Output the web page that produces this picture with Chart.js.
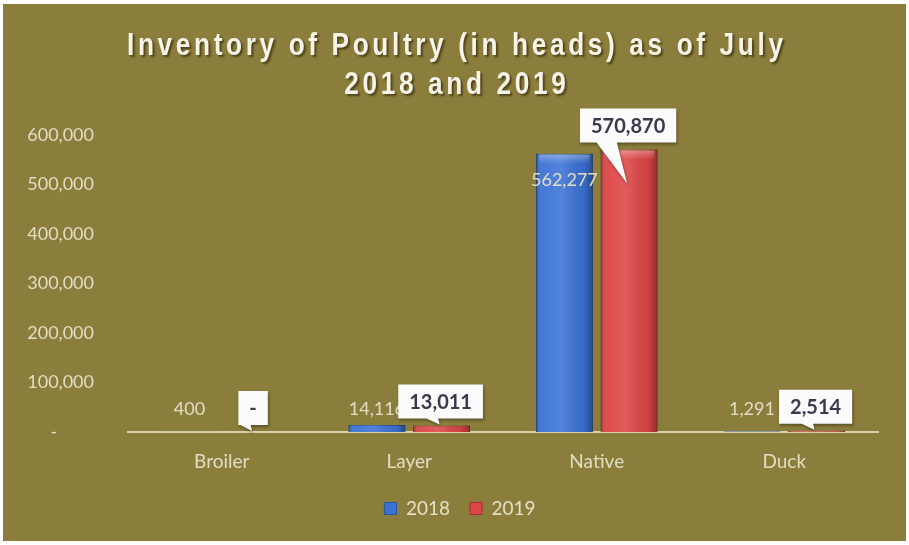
<!DOCTYPE html>
<html>
<head>
<meta charset="utf-8">
<script src="https://cdn.jsdelivr.net/npm/chart.js@4.4.1/dist/chart.umd.min.js"></script>
<style>
  html, body { margin: 0; padding: 0; background: #ffffff; }
  #wrap { width: 909px; height: 545px; }
</style>
</head>
<body>
<div id="wrap"><canvas id="poultryChart" width="909" height="545"></canvas></div>
<script>
// ===== Data =====
const categories = ["Broiler", "Layer", "Native", "Duck"];
const values2018 = [400, 14116, 562277, 1291];
const values2019 = [0, 13011, 570870, 2514];
const seriesLabels = ["2018", "2019"];
const titleLines = ["Inventory of Poultry (in heads) as of July", "2018 and 2019"];

const olive = "#8b7d3c";
const lightText = "#e2ddc2";
const blue = "#3b72d6";
const red = "#de4545";

function fmt(v) {
  return v === 0 ? "-" : v.toLocaleString("en-US");
}

// ===== Background + title =====
const backdrop = {
  id: "backdrop",
  beforeDraw(chart) {
    const ctx = chart.ctx;
    ctx.save();
    ctx.fillStyle = "#ffffff";
    ctx.fillRect(0, 0, chart.width, chart.height);
    ctx.fillStyle = olive;
    ctx.fillRect(3, 4, chart.width - 6, chart.height - 8);
    ctx.restore();
  },
  afterLayout(chart) {
    // legend sits a little right of centre in the original
    chart.legend.left += 21;
    chart.legend.right += 21;
  },
  afterDraw(chart) {
    const ctx = chart.ctx;
    const sx = 0.82; // narrow face
    ctx.save();
    ctx.font = "bold 32px 'Liberation Sans', Arial, sans-serif";
    ctx.textAlign = "center";
    ctx.textBaseline = "middle";
    const w0 = ctx.measureText(titleLines[0]).width * sx;
    const sp = Math.max(0, (656 - w0) / (titleLines[0].length - 1) / sx);
    ctx.letterSpacing = sp.toFixed(2) + "px";
    ctx.shadowColor = "rgba(40,30,0,0.6)";
    ctx.shadowOffsetX = 2;
    ctx.shadowOffsetY = 2;
    ctx.shadowBlur = 2;
    ctx.fillStyle = "#f6f3e8";
    ctx.translate(455, 0);
    ctx.scale(sx, 1);
    titleLines.forEach((line, i) => ctx.fillText(line, sp / 2, 46 + i * 39));
    ctx.restore();
  }
};

// ===== Bar shading + data labels =====
function callout(ctx, text, cx, bottom, tipX, tipY) {
  ctx.font = "bold 20px Lato, sans-serif";
  const w = ctx.measureText(text).width + 22;
  const h = 34;
  const left = cx - w / 2, top = bottom - h;
  const dy = tipY - bottom;
  let x1 = tipX - 10 - 0.5 * dy, x2 = tipX - 0.25 * dy;
  x1 = Math.max(x1, left + 2);
  x2 = Math.min(Math.max(x2, x1 + 6), left + w - 2);

  ctx.save();
  ctx.shadowColor = "rgba(0,0,0,0.35)";
  ctx.shadowOffsetX = 1;
  ctx.shadowOffsetY = 2;
  ctx.shadowBlur = 3;
  ctx.fillStyle = "#fbfbfb";
  ctx.beginPath();
  ctx.moveTo(left, top);
  ctx.lineTo(left + w, top);
  ctx.lineTo(left + w, bottom);
  ctx.lineTo(x2, bottom);
  ctx.lineTo(tipX, tipY);
  ctx.lineTo(x1, bottom);
  ctx.lineTo(left, bottom);
  ctx.closePath();
  ctx.fill();
  ctx.restore();

  ctx.fillStyle = "#3a3a4c";
  ctx.textAlign = "center";
  ctx.textBaseline = "middle";
  ctx.fillText(text, cx, top + h / 2 + 1);
}

const barDecor = {
  id: "barDecor",
  afterDatasetsDraw(chart) {
    const ctx = chart.ctx;
    const base = chart.scales.y.getPixelForValue(0);
    ctx.save();
    chart.data.datasets.forEach((ds, di) => {
      chart.getDatasetMeta(di).data.forEach(bar => {
        const h = base - bar.y;
        if (h < 1) return;
        const l = bar.x - bar.width / 2, r = bar.x + bar.width / 2;
        const g = ctx.createLinearGradient(l, 0, r, 0);
        g.addColorStop(0, "rgba(0,0,0,0.28)");
        g.addColorStop(0.12, "rgba(255,255,255,0.05)");
        g.addColorStop(0.45, "rgba(255,255,255,0.12)");
        g.addColorStop(0.85, "rgba(0,0,0,0.08)");
        g.addColorStop(1, "rgba(0,0,0,0.35)");
        ctx.fillStyle = g;
        ctx.fillRect(l, bar.y, bar.width, h);
        if (h > 12) {
          const t = ctx.createLinearGradient(0, bar.y, 0, bar.y + 10);
          t.addColorStop(0, "rgba(255,255,255,0.35)");
          t.addColorStop(1, "rgba(255,255,255,0)");
          ctx.fillStyle = t;
          ctx.fillRect(l + 3, bar.y + 1, bar.width - 6, 10);
        }
      });
    });
    ctx.restore();
  },
  afterDraw(chart) {
    const ctx = chart.ctx;
    const base = chart.scales.y.getPixelForValue(0);
    ctx.save();
    // 2018: plain labels
    ctx.font = "18px Lato, sans-serif";
    ctx.fillStyle = lightText;
    ctx.textAlign = "center";
    ctx.textBaseline = "middle";
    chart.getDatasetMeta(0).data.forEach((bar, i) => {
      const y = Math.min(bar.y + 27, base - 23);
      ctx.fillText(fmt(values2018[i]), bar.x, y);
    });
    // 2019: callouts
    chart.getDatasetMeta(1).data.forEach((bar, i) => {
      const tall = base - bar.y > 50;
      const tipY = tall ? bar.y + 34 : bar.y - 1;
      callout(ctx, fmt(values2019[i]), bar.x - 1, bar.y - 7, bar.x - 2, tipY);
    });
    ctx.restore();
  }
};

// ===== Chart =====
const chart = new Chart(document.getElementById("poultryChart"), {
  type: "bar",
  data: {
    labels: categories,
    datasets: [
      { label: seriesLabels[0], data: values2018, backgroundColor: blue, borderColor: "#2a56a0", borderWidth: 1 },
      { label: seriesLabels[1], data: values2019, backgroundColor: red, borderColor: "#a52e2e", borderWidth: 1 }
    ]
  },
  options: {
    responsive: false,
    animation: false,
    devicePixelRatio: 1,
    categoryPercentage: 0.69,
    barPercentage: 0.88,
    layout: { padding: { top: 135, right: 31, bottom: 17, left: 0 } },
    scales: {
      x: {
        grid: { display: false },
        border: { display: true, color: "#d9d2a6", width: 2 },
        ticks: { color: lightText, font: { family: "Lato", size: 19 }, padding: 10 },
        afterFit(scale) { scale.height = 47; }
      },
      y: {
        min: 0,
        max: 600000,
        grid: { display: false },
        border: { display: false },
        ticks: {
          stepSize: 100000,
          color: lightText,
          font: { family: "Lato", size: 18 },
          padding: 26,
          callback: v => v === 0 ? "-        " : v.toLocaleString("en-US")
        },
        afterFit(scale) { scale.width = 128; }
      }
    },
    plugins: {
      title: { display: false },
      tooltip: { enabled: false },
      legend: {
        position: "bottom",
        labels: {
          color: "#e6e1c6",
          font: { family: "Lato", size: 19 },
          boxWidth: 12,
          boxHeight: 12,
          padding: 20
        }
      }
    }
  },
  plugins: [backdrop, barDecor]
});
</script>
</body>
</html>
